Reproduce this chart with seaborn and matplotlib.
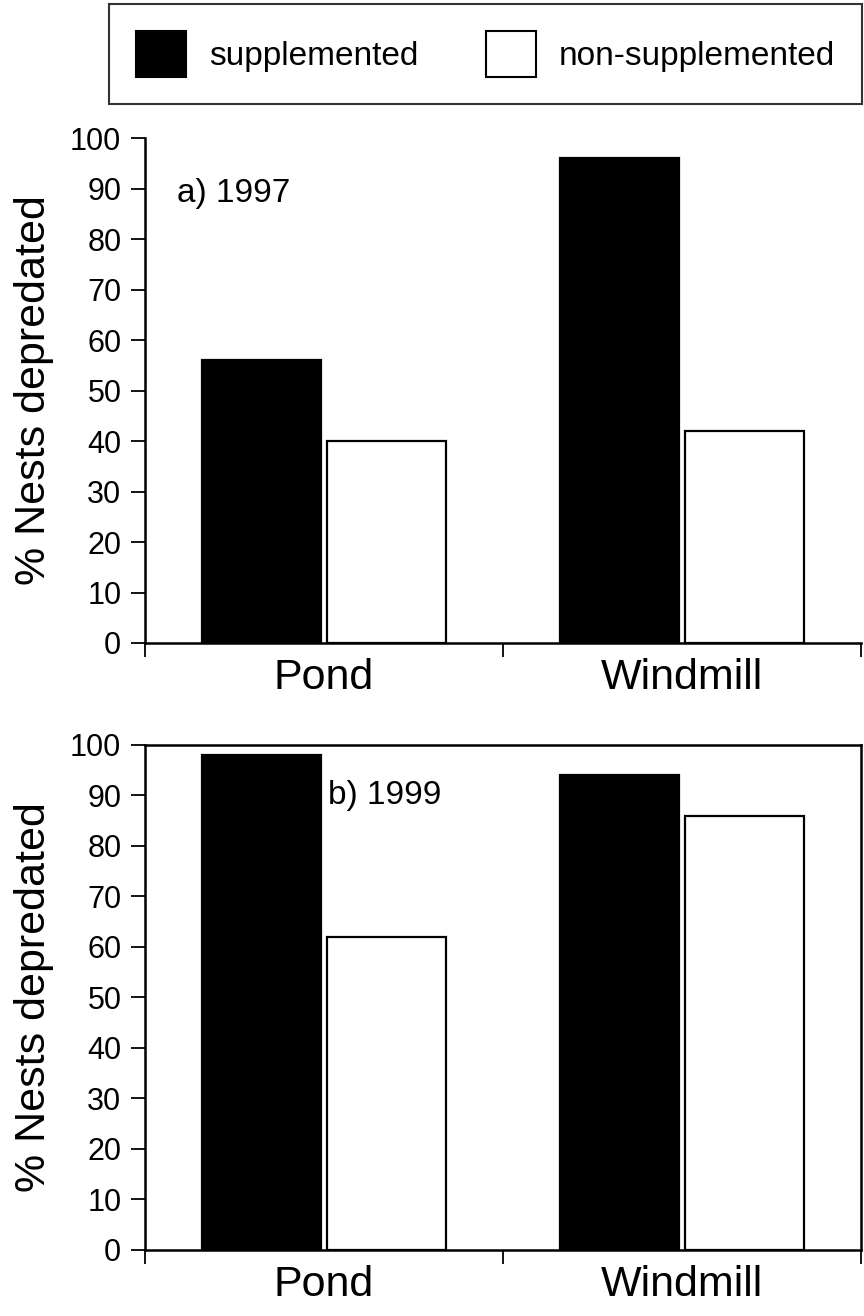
import pandas as pd
import matplotlib
matplotlib.use("Agg")
import matplotlib.pyplot as plt
import seaborn as sns

# --- DATA ---
sites = ["Pond", "Windmill"]
treatments = ["supplemented", "non-supplemented"]
supp_1997 = [56, 96]
non_1997 = [40, 42]
supp_1999 = [98, 94]
non_1999 = [62, 86]


def make_frame(supp, non):
    rows = []
    for site, s, n in zip(sites, supp, non):
        rows.append({"site": site, "treatment": treatments[0], "pct": s})
        rows.append({"site": site, "treatment": treatments[1], "pct": n})
    return pd.DataFrame(rows)


sns.set_style("ticks", rc={"text.color": "black", "axes.labelcolor": "black",
                           "xtick.color": "black", "ytick.color": "black",
                           "axes.edgecolor": "black"})
plt.rcParams["font.family"] = ["Liberation Sans", "DejaVu Sans"]

fig = plt.figure(figsize=(8.64, 13.16), dpi=100)
ax_a = fig.add_axes([0.1678, 0.5114, 0.8287, 0.3837])
ax_b = fig.add_axes([0.1678, 0.0502, 0.8287, 0.3837])

palette = {treatments[0]: "black", treatments[1]: "white"}

panels = [
    (ax_a, make_frame(supp_1997, non_1997), "a) 1997", (-0.41, 89)),
    (ax_b, make_frame(supp_1999, non_1999), "b) 1999", (0.01, 90)),
]

for ax, df, tag, pos in panels:
    sns.barplot(data=df, x="site", y="pct", hue="treatment", order=sites,
                hue_order=treatments, palette=palette, edgecolor="black",
                linewidth=1.6, width=0.7, gap=0.05, legend=False, ax=ax)
    ax.set_xlim(-0.5, 1.5)
    ax.set_ylim(0, 100)
    ax.set_yticks(range(0, 101, 10))
    ax.tick_params(axis="y", labelsize=22, length=10, width=1.3, pad=7,
                   direction="out")
    ax.set_xticks([0, 1])
    ax.set_xticklabels(sites)
    ax.tick_params(axis="x", which="major", labelsize=31, length=0, pad=11)
    ax.set_xticks([-0.5, 0.5, 1.5], minor=True)
    ax.tick_params(axis="x", which="minor", length=10, width=1.3,
                   direction="out")
    ax.set_xlabel("")
    ax.set_ylabel("% Nests depredated", fontsize=31)
    ax.yaxis.set_label_coords(-0.127, 0.5)
    for sp in ax.spines.values():
        sp.set_linewidth(1.8)
    ax.text(pos[0], pos[1], tag, fontsize=24, ha="left", va="center")

# panel a has only left and bottom axes, panel b keeps its full frame
ax_a.spines["top"].set_visible(False)
ax_a.spines["right"].set_visible(False)

handles = [plt.Rectangle((0, 0), 1, 1, facecolor=palette[t], edgecolor="black",
                         linewidth=1.5) for t in treatments]
leg = fig.legend(handles, treatments, loc="upper left",
                 bbox_to_anchor=(109 / 864, 1 - 107 / 1316, 753 / 864, 103 / 1316),
                 mode="expand", borderaxespad=0,
                 ncol=2, fontsize=24, frameon=True, fancybox=False,
                 handlelength=1.5, handleheight=1.78, handletextpad=0.7,
                 columnspacing=1.9, borderpad=0.8)
leg.get_frame().set_edgecolor("black")
leg.get_frame().set_linewidth(1.5)

fig.savefig("out.png", dpi=100, facecolor="white")
